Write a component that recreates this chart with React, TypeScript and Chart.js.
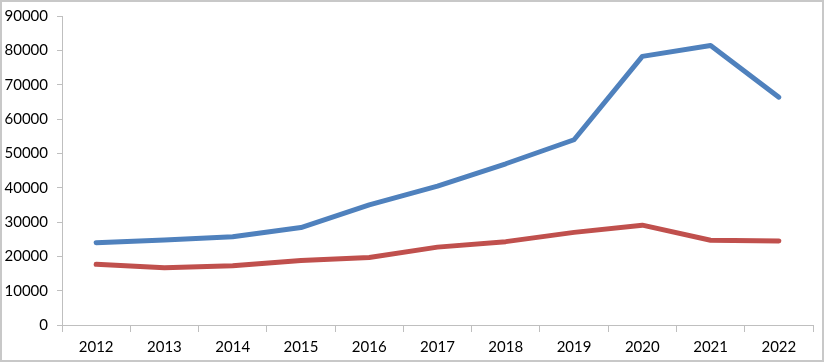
import React, { useEffect, useRef } from "react";
import { Chart, registerables } from "chart.js";

Chart.register(...registerables);

const years = ["2012", "2013", "2014", "2015", "2016", "2017", "2018", "2019", "2020", "2021", "2022"];
const seriesBlue = [24000, 24800, 25700, 28400, 35000, 40500, 47000, 54000, 78300, 81500, 66400];
const seriesRed = [17700, 16700, 17300, 18800, 19700, 22700, 24300, 27000, 29100, 24700, 24500];

export default function App() {
  const ref = useRef<HTMLCanvasElement | null>(null);
  useEffect(() => {
    if (!ref.current) return;
    const font = { family: "Lato, 'Open Sans', sans-serif", size: 15 };
    const chart = new Chart(ref.current, {
      type: "line",
      data: {
        labels: years,
        datasets: [
          {
            data: seriesBlue,
            borderColor: "#4f81bd",
            borderWidth: 5,
            pointRadius: 0,
            tension: 0,
            borderJoinStyle: "round",
            borderCapStyle: "round",
          },
          {
            data: seriesRed,
            borderColor: "#c0504d",
            borderWidth: 5,
            pointRadius: 0,
            tension: 0,
            borderJoinStyle: "round",
            borderCapStyle: "round",
          },
        ],
      },
      options: {
        animation: false,
        responsive: false,
        layout: { padding: { left: 0, right: 9, top: 0, bottom: -2 } },
        plugins: { legend: { display: false }, tooltip: { enabled: false } },
        scales: {
          x: {
            offset: true,
            grid: { offset: true, drawOnChartArea: false, tickLength: 7, color: "#bfbfbf" },
            border: { color: "#bfbfbf" },
            ticks: { color: "#000", font, padding: 6, maxRotation: 0 },
          },
          y: {
            min: 0,
            max: 90000,
            afterFit: (scale: any) => {
              scale.width = 60;
            },
            grid: { drawOnChartArea: false, tickLength: 5, color: "#bfbfbf" },
            border: { color: "#bfbfbf" },
            ticks: {
              stepSize: 10000,
              color: "#000",
              font: { ...font, lineHeight: 0.7 },
              padding: 9,
              callback: (v: any) => String(v),
            },
          },
        },
      },
    });
    return () => chart.destroy();
  }, []);
  return (
    <div
      style={{
        position: "fixed",
        left: 0,
        top: 0,
        width: 824,
        height: 362,
        boxSizing: "border-box",
        border: "2px solid #c8c8c8",
        background: "#fff",
      }}
    >
      <canvas ref={ref} width={820} height={358} style={{ display: "block" }} />
    </div>
  );
}
